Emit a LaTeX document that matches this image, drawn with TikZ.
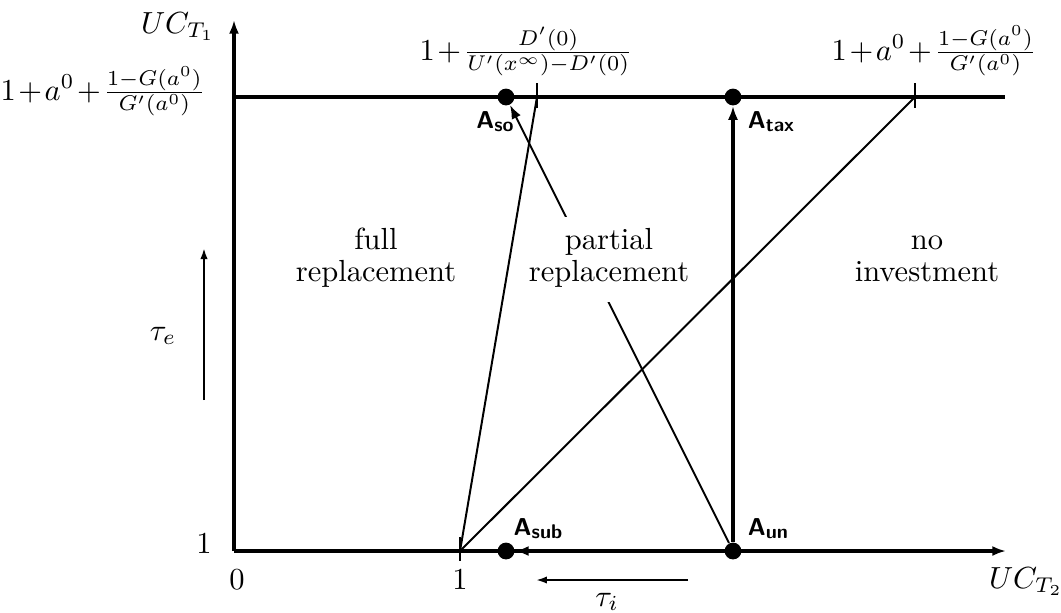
\documentclass[tikz,border=0pt]{standalone}
\usetikzlibrary{arrows.meta}
\newcommand\Alab[1]{{\fontsize{8}{9}\selectfont\sffamily\bfseries A\raisebox{-1pt}{\fontsize{6.5}{7}\selectfont #1}}}
\begin{document}
\begin{tikzpicture}[x=0.3276pt,y=-0.3276pt,
  axis/.style={line width=1pt},
  thinline/.style={line width=0.65pt},
  bigtip/.style={-{Latex[length=4.5pt,width=3.3pt]}},
  smalltip/.style={-{Latex[length=3.6pt,width=2.4pt]}},
  dot/.style={circle,fill=black,inner sep=0pt,minimum size=5.5pt},
  region/.style={align=center,font=\fontsize{10}{10.5}\selectfont},
  lab/.style={anchor=base,inner sep=0pt},
  mlab/.style={anchor=base,inner sep=0pt,execute at begin node={\medmuskip=1.5mu}},
  alab/.style={anchor=base,inner sep=0pt}]
\useasboundingbox (0,0) rectangle (1061,612);
% coordinates
\coordinate (O) at (234,551);
\coordinate (ytip) at (234,20);
\coordinate (xtip) at (1006,551);
\coordinate (topL) at (234,97);
\coordinate (topR) at (1005,97);
\coordinate (one) at (460,551);
\coordinate (b1) at (537,97);
\coordinate (b2) at (915,97);
\coordinate (ti1) at (688,580);
\coordinate (ti2) at (536,580);
\coordinate (te1) at (204,400);
\coordinate (te2) at (204,248);
% dots
\node[dot] (so) at (506,97) {};
\node[dot] (tax) at (733,97) {};
\node[dot] (sub) at (506,551) {};
\node[dot] (un) at (733,551) {};
% axes
\draw[axis,bigtip] (O) -- (ytip);
\draw[axis,bigtip] (O) -- (xtip);
\draw[axis] (topL) -- (topR);
% ticks
\draw[thinline] (460,537) -- (460,561);
\draw[thinline] (537,83) -- (537,108);
\draw[thinline] (915,83) -- (915,108);
% boundary lines
\draw[thinline] (one) -- (b1);
\draw[thinline] (one) -- (b2);
% arrows from A_un
\draw[axis,bigtip] (un) -- (tax);
\draw[axis,bigtip] (un) -- (sub);
\draw[thinline,bigtip] (un) -- (so);
% direction arrows
\draw[thinline,smalltip] (ti1) -- (ti2);
\draw[thinline,smalltip] (te1) -- (te2);
% region labels
\node[region] (full) at (376,259.5) {\strut full\\replacement\strut};
\node[region,fill=white] (partial) at (609,259.5) {\strut partial\\replacement\strut};
\node[region] (noinv) at (927,259.5) {\strut no\\investment\strut};
% axis labels
\node[lab] (uc1) at (178,33) {$UC_{T_1}$};
\node[lab] (uc2) at (1026,588) {$UC_{T_2}$};
\node[mlab,anchor=base west] (left) at (0,100) {$1+a^0+\frac{1-G(a^0)}{G'(a^0)}$};
\node[mlab] (topmid) at (526,60) {$1+\frac{D'(0)}{U'(x^\infty)-D'(0)}$};
\node[mlab] (topright) at (934,60) {$1+a^0+\frac{1-G(a^0)}{G'(a^0)}$};
\node[lab] (oneleft) at (204,553) {$1$};
\node[lab] (zero) at (237,589) {$0$};
\node[lab] (onebot) at (460,589) {$1$};
\node[lab] (taue) at (163,340) {$\tau_e$};
\node[lab] (taui) at (607,606) {$\tau_i$};
% point labels
\node[alab] (lso) at (495,128) {\Alab{so}};
\node[alab] (ltax) at (771,128) {\Alab{tax}};
\node[alab] (lsub) at (538,535) {\Alab{sub}};
\node[alab] (lun) at (768,535) {\Alab{un}};
\end{tikzpicture}
\end{document}
